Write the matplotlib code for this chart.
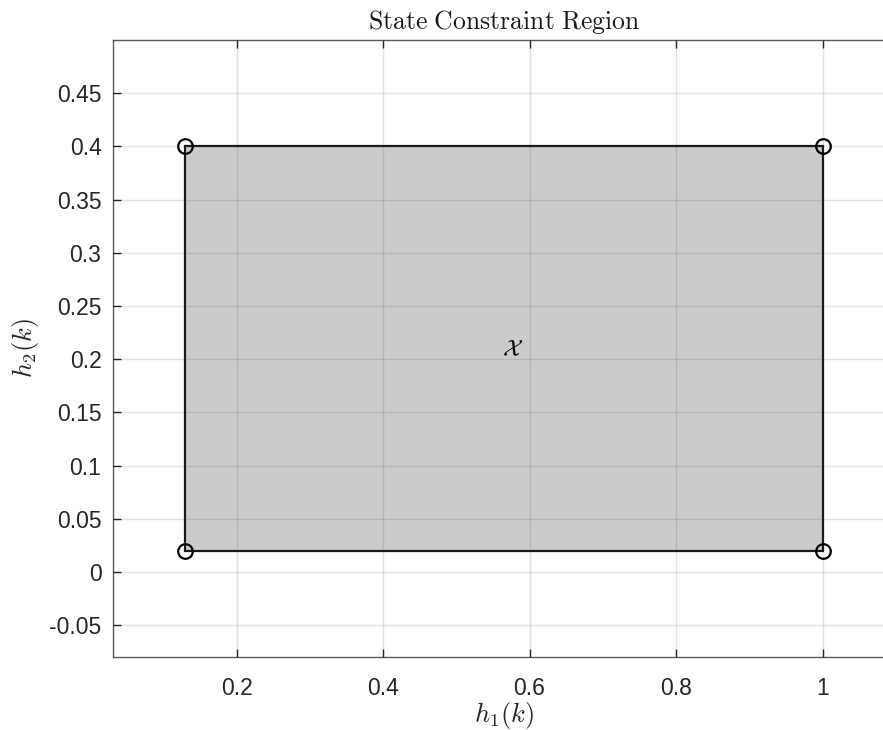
import matplotlib
matplotlib.use("Agg")
import matplotlib.pyplot as plt
from matplotlib.patches import Polygon
import numpy as np

# Data
vertex_x = [0.13, 1.0, 1.0, 0.13]
vertex_y = [0.02, 0.02, 0.4, 0.4]
xticks = [0.2, 0.4, 0.6, 0.8, 1.0]
xtick_labels = ["0.2", "0.4", "0.6", "0.8", "1"]
yticks = [-0.05, 0, 0.05, 0.1, 0.15, 0.2, 0.25, 0.3, 0.35, 0.4, 0.45]
ytick_labels = ["-0.05", "0", "0.05", "0.1", "0.15", "0.2", "0.25", "0.3", "0.35", "0.4", "0.45"]
region_label = r"$\mathcal{X}$"
label_pos = (0.577, 0.208)

plt.rcParams['mathtext.fontset'] = 'cm'
plt.rcParams['font.family'] = ['Liberation Sans', 'DejaVu Sans']

xmin, xmax = 0.0307, 1.1
ymin, ymax = -0.08, 0.5
px_per_x = 732.5
ax_w = (xmax - xmin) * px_per_x

fig = plt.figure(figsize=(8.83, 7.30), dpi=100)
ax = fig.add_axes([112.5 / 883, 73 / 730, ax_w / 883, 617 / 730])

ax.set_xlim(xmin, xmax)
ax.set_ylim(ymin, ymax)

poly = Polygon(np.column_stack([vertex_x, vertex_y]), closed=True,
               facecolor='#cbcbcb', edgecolor='#1a1a1a', linewidth=1.6, zorder=2)
ax.add_patch(poly)
ax.plot(vertex_x, vertex_y, linestyle='none', marker='o', markersize=10.5,
        markerfacecolor='none', markeredgecolor='black', markeredgewidth=1.6,
        zorder=4, clip_on=False)

ax.text(label_pos[0], label_pos[1], region_label, fontsize=17,
        ha='center', va='center', zorder=5)

ax.set_xticks(xticks)
ax.set_xticklabels(xtick_labels)
ax.set_yticks(yticks)
ax.set_yticklabels(ytick_labels)

ax.grid(True, color='#262626', alpha=0.12, linewidth=1.0, zorder=3)
ax.set_axisbelow(False)

ax.tick_params(direction='in', length=6, width=1.0, color='#262626',
               labelsize=16.5, labelcolor='#262626', top=True, right=True)
ax.tick_params(axis='x', pad=14.5)
ax.tick_params(axis='y', pad=8)
for s in ax.spines.values():
    s.set_color('#5a5a5a')
    s.set_linewidth(1.0)

ax.set_xlabel(r"$h_1(k)$", fontsize=19, color='#262626', labelpad=0)
ax.set_ylabel(r"$h_2(k)$", fontsize=19, color='#262626', labelpad=6)
ax.set_title(r"$\mathrm{State\ Constraint\ Region}$", fontsize=18.5,
             color='#1a1a1a', pad=8)

fig.savefig("out.png", dpi=100)
